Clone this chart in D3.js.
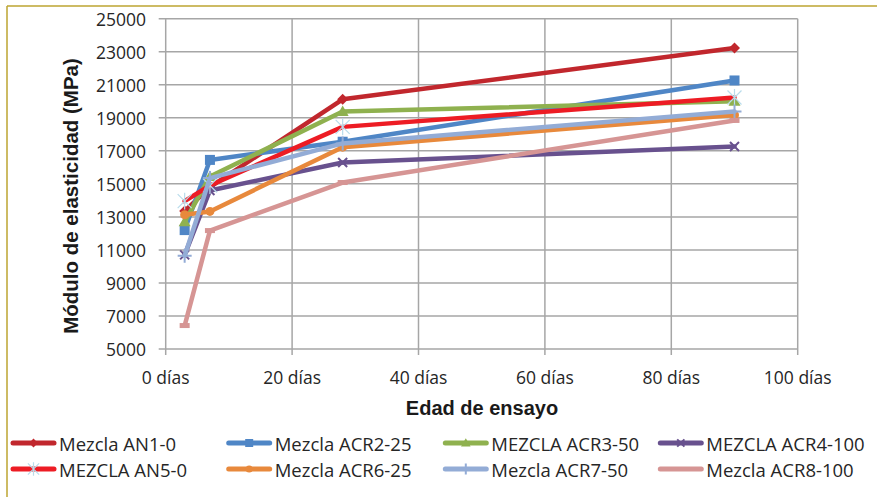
<!DOCTYPE html>
<html><head><meta charset="utf-8">
<script src="https://cdn.jsdelivr.net/npm/d3@7"></script>
<style>html,body{margin:0;padding:0;background:#fff;}svg{display:block;}</style>
</head><body>
<svg id="c" width="877" height="497"></svg>
<script>
const days = [3, 7, 28, 90];
const seriesNames = ["Mezcla AN1-0","Mezcla ACR2-25","MEZCLA ACR3-50","MEZCLA ACR4-100","MEZCLA AN5-0","Mezcla ACR6-25","Mezcla ACR7-50","Mezcla ACR8-100"];
const an1_0   = [13350, 14800, 20120, 23220];
const acr2_25 = [12200, 16450, 17550, 21260];
const acr3_50 = [12700, 15450, 19380, 20000];
const acr4_100= [10700, 14600, 16290, 17260];
const an5_0   = [13950, 14900, 18450, 20230];
const acr6_25 = [13130, 13330, 17220, 19170];
const acr7_50 = [10640, 15350, 17450, 19380];
const acr8_100= [6420, 12170, 15080, 18840];
const seriesValues = [an1_0, acr2_25, acr3_50, acr4_100, an5_0, acr6_25, acr7_50, acr8_100];
const colors = ["#C1272D","#4F86C6","#8FB14F","#68518E","#ED1C24","#E8893C","#93ACD6","#D69594"];
const markers = ["diamond","square","triangle","x","star","circle","plus","dash"];
const xTicks = [0,20,40,60,80,100];
const yTicks = [5000,7000,9000,11000,13000,15000,17000,19000,21000,23000,25000];

const svg = d3.select("#c");
const x = d3.scaleLinear().domain([0,100]).range([165.7,797.7]);
const y = d3.scaleLinear().domain([5000,25000]).range([349,18.7]);
const grid = "#A6A6A6";
const tickFont = "'Open Sans', sans-serif";

// border
svg.append("line").attr("x1",7).attr("x2",877).attr("y1",6).attr("y2",6).attr("stroke","#BCA531").attr("stroke-width",1.5);
svg.append("line").attr("x1",7).attr("x2",7).attr("y1",6).attr("y2",497).attr("stroke","#BCA531").attr("stroke-width",1.5);

// gridlines
svg.append("g").selectAll("line").data(yTicks).join("line")
  .attr("x1",x(0)-7).attr("x2",x(100)).attr("y1",d=>y(d)).attr("y2",d=>y(d))
  .attr("stroke",grid).attr("stroke-width",1.5);
svg.append("g").selectAll("line").data(xTicks).join("line")
  .attr("x1",d=>x(d)).attr("x2",d=>x(d)).attr("y1",y(25000)).attr("y2",y(5000)+6)
  .attr("stroke",grid).attr("stroke-width",1.5);

// tick labels
svg.append("g").selectAll("text").data(yTicks).join("text")
  .attr("x",146).attr("y",d=>y(d)).attr("text-anchor","end").attr("dominant-baseline","central")
  .attr("font-family",tickFont).attr("font-size",17.5).attr("fill","#262626").text(d=>d);
svg.append("g").selectAll("text").data(xTicks).join("text")
  .attr("x",d=>x(d)).attr("y",377).attr("text-anchor","middle").attr("dominant-baseline","central")
  .attr("font-family",tickFont).attr("font-size",17.5).attr("fill","#262626").text(d=>d+" días");

// titles
svg.append("text").attr("x",482).attr("y",415).attr("text-anchor","middle")
  .attr("font-family","'Liberation Sans', Arial, sans-serif").attr("font-weight","bold").attr("font-size",20)
  .attr("fill","#1a1a1a").text("Edad de ensayo");
svg.append("text").attr("transform","translate(78,196) rotate(-90)").attr("text-anchor","middle")
  .attr("font-family","'Liberation Sans', Arial, sans-serif").attr("font-weight","bold").attr("font-size",20.5)
  .attr("fill","#1a1a1a").text("Módulo de elasticidad (MPa)");

function drawMarker(g, type, cx, cy, color, s) {
  s = s || 1;
  if (type==="diamond") {
    g.append("path").attr("d",`M${cx},${cy-5.5*s}L${cx+5.5*s},${cy}L${cx},${cy+5.5*s}L${cx-5.5*s},${cy}Z`).attr("fill",color);
  } else if (type==="square") {
    g.append("rect").attr("x",cx-5*s).attr("y",cy-5*s).attr("width",10*s).attr("height",10*s).attr("fill",color);
  } else if (type==="triangle") {
    g.append("path").attr("d",`M${cx},${cy-6*s}L${cx+6*s},${cy+4.5*s}L${cx-6*s},${cy+4.5*s}Z`).attr("fill",color);
  } else if (type==="x") {
    const r=4.5*s;
    g.append("path").attr("d",`M${cx-r},${cy-r}L${cx+r},${cy+r}M${cx-r},${cy+r}L${cx+r},${cy-r}`).attr("stroke",color).attr("stroke-width",2);
  } else if (type==="star") {
    const r=7*s;
    g.append("path").attr("d",`M${cx-r},${cy-r}L${cx+r},${cy+r}M${cx-r},${cy+r}L${cx+r},${cy-r}M${cx},${cy-r*1.2}L${cx},${cy+r*1.2}`).attr("stroke","#B9DCEB").attr("stroke-width",1.2);
  } else if (type==="circle") {
    g.append("circle").attr("cx",cx).attr("cy",cy).attr("r",4.5*s).attr("fill",color);
  } else if (type==="plus") {
    const r=7*s;
    g.append("path").attr("d",`M${cx-r},${cy}L${cx+r},${cy}M${cx},${cy-r}L${cx},${cy+r}`).attr("stroke",color).attr("stroke-width",2);
  } else if (type==="dash") {
    g.append("rect").attr("x",cx-5*s).attr("y",cy-2.5*s).attr("width",10*s).attr("height",5*s).attr("fill",color);
  }
}

// series
const line = d3.line().x((d,i)=>x(days[i])).y(d=>y(d));
seriesValues.forEach((vals,si)=>{
  const g = svg.append("g");
  g.append("path").attr("d",line(vals)).attr("fill","none").attr("stroke",colors[si])
    .attr("stroke-width",4.5).attr("stroke-linejoin","round").attr("stroke-linecap","round");
  vals.forEach((v,i)=>drawMarker(g, markers[si], x(days[i]), y(v), colors[si]));
});

// legend
const legX = [11, 226.7, 443.3, 658.3];
const legY = [443, 469];
seriesNames.forEach((n,i)=>{
  const col = i%4, row = Math.floor(i/4);
  const lx = legX[col], ly = legY[row];
  const g = svg.append("g");
  g.append("line").attr("x1",lx+2).attr("x2",lx+43).attr("y1",ly).attr("y2",ly)
    .attr("stroke",colors[i]).attr("stroke-width",5).attr("stroke-linecap","round");
  if (markers[i]!=="dash") drawMarker(g, markers[i], lx+22.5, ly, colors[i], 0.8);
  g.append("text").attr("x",lx+48).attr("y",ly).attr("dominant-baseline","central")
    .attr("font-family",tickFont).attr("font-size",18.5).attr("fill","#262626").text(n);
});
</script>
</body></html>
